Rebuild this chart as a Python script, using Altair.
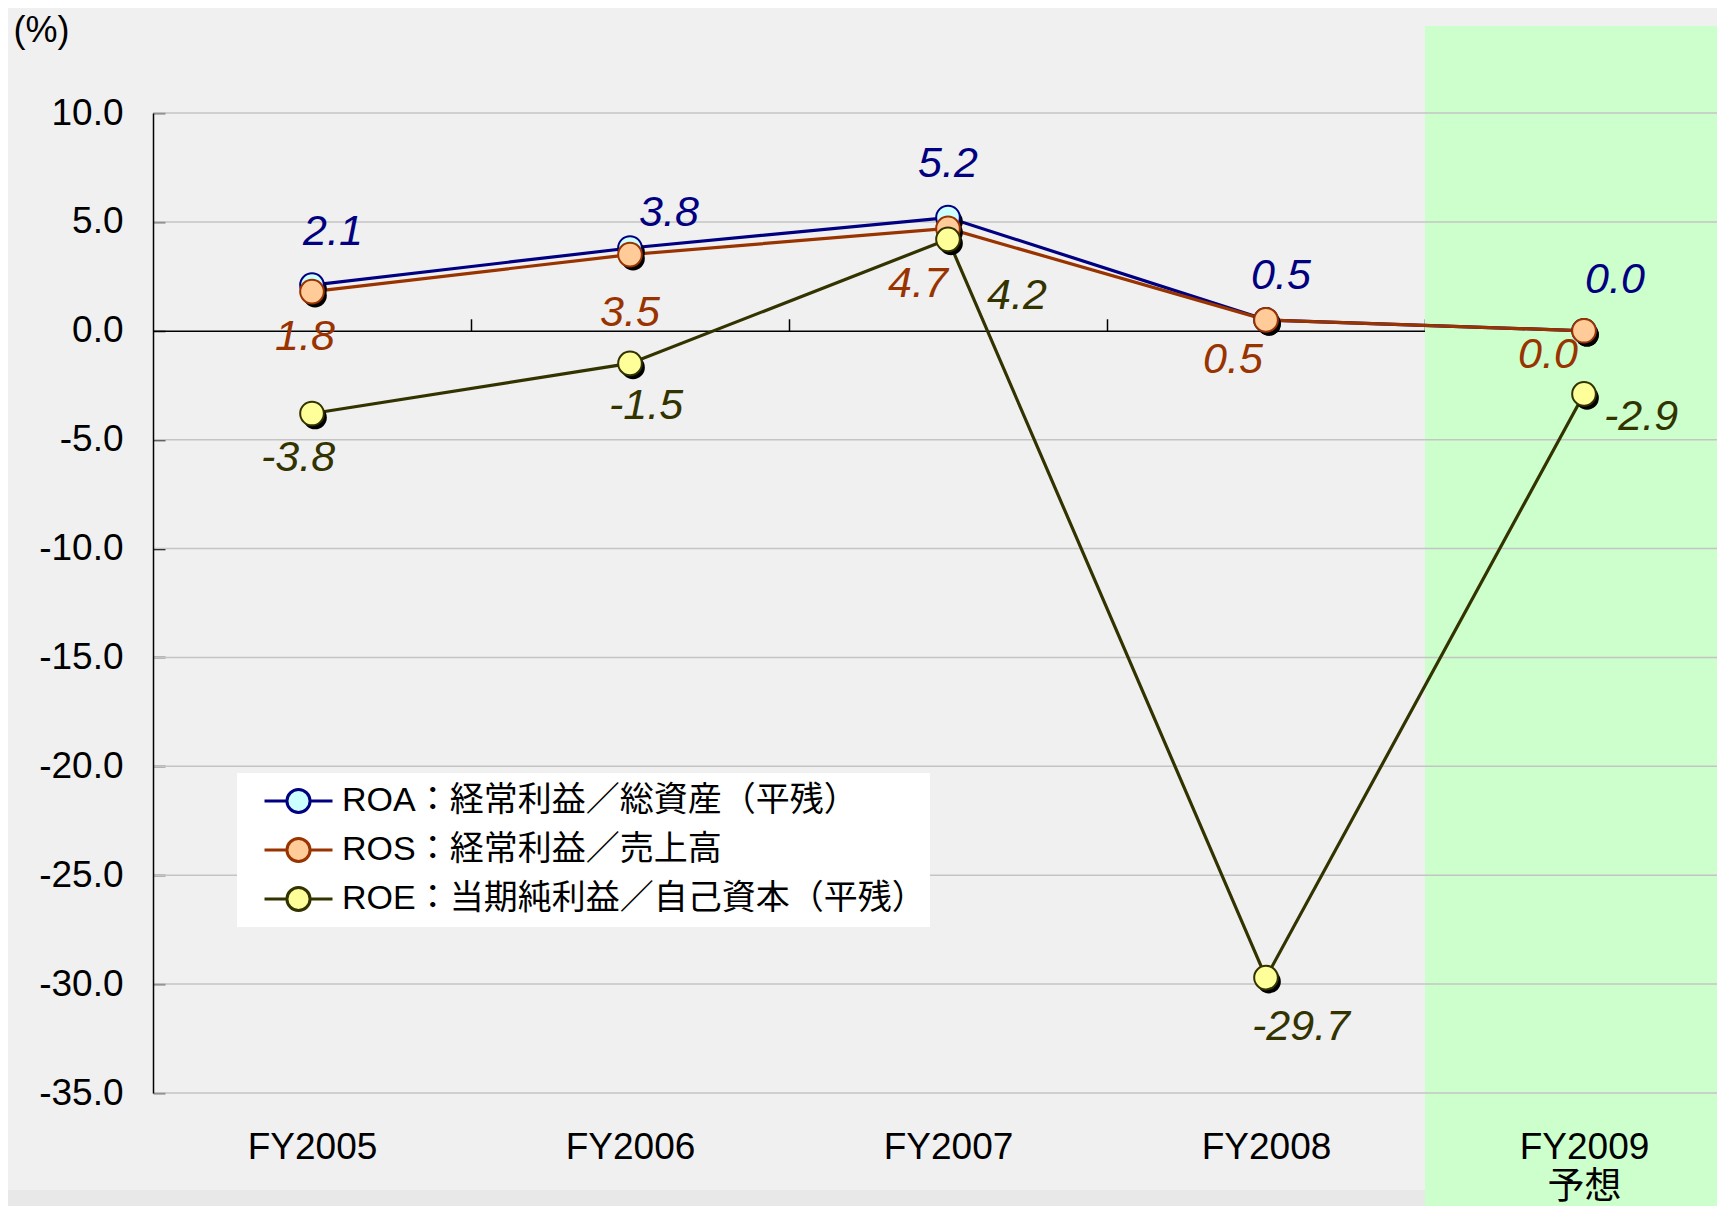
import altair as alt
import pandas as pd

# ---- data ----
categories = ["FY2005", "FY2006", "FY2007", "FY2008", "FY2009\n予想"]
series_names = [
    "ROA：経常利益／総資産（平残）",
    "ROS：経常利益／売上高",
    "ROE：当期純利益／自己資本（平残）",
]
roa = [2.1, 3.8, 5.2, 0.5, 0.0]
ros = [1.8, 3.5, 4.7, 0.5, 0.0]
roe = [-3.8, -1.5, 4.2, -29.7, -2.9]
y_ticks = [10, 5, 0, -5, -10, -15, -20, -25, -30, -35]

line_colors = ["#000080", "#993300", "#333300"]
fill_colors = ["#ccffff", "#ffcc99", "#ffff99"]

# data-label placement (pixel offsets from each point, as hand-placed in the original)
label_dx = [[21, 39, 0, 15, 31], [-7, 0, -30, -33, -36], [-14, 16, 69, 35, 57]]
label_dy = [[-53, -35, -54, -44, -51], [45, 58, 56, 40, 24], [44, 43, 57, 49, 23]]

rows = []
for s, (name, vals) in enumerate(zip(series_names, [roa, ros, roe])):
    for i, v in enumerate(vals):
        rows.append({"series": name, "idx": i, "value": v, "label": f"{v:.1f}",
                     "dx": label_dx[s][i], "dy": label_dy[s][i]})
df = pd.DataFrame(rows)

# ---- geometry ----
W, H = 1564, 980
band_px = 318
x_min = -0.5
x_max = x_min + W / band_px
y_min, y_max = -35, 10
px_per_unit = H / (y_max - y_min)

FONT = "Liberation Sans, Arial, Noto Sans CJK JP"

xs = alt.Scale(domain=[x_min, x_max], nice=False, zero=False)
ys = alt.Scale(domain=[y_min, y_max], nice=False, zero=False)

label_expr = ("split([" + ",".join("'" + c.replace("\n", "\\n") + "'" for c in categories)
              + "][datum.value], '\\n')")

stroke_scale = alt.Scale(domain=series_names, range=line_colors)
fill_scale = alt.Scale(domain=series_names, range=fill_colors)

legend_path = ("M-1,0 L-0.34,0 M0.34,0 L1,0 "
               "M0.34,0 A0.34,0.34 0 1,1 -0.34,0 A0.34,0.34 0 1,1 0.34,0 Z")
legend = alt.Legend(
    title=None, orient="none", legendX=84, legendY=660, symbolType=legend_path,
    symbolSize=4624, symbolStrokeWidth=3, labelFont=FONT, labelFontSize=34,
    labelColor="#000000", labelLimit=1000, fillColor="#ffffff", padding=4,
    clipHeight=48, rowPadding=1, labelOffset=8, symbolOffset=22, zindex=2)

X = lambda f: alt.X(f, scale=xs, axis=None)
Y = lambda f: alt.Y(f, scale=ys, axis=None)

# green forecast band (carries the main axes)
band_df = pd.DataFrame({"x": [3.5], "x2": [x_max], "y": [14.0], "y2": [-41.0]})
band = alt.Chart(band_df).mark_rect(color="#ccffcc", clip=False).encode(
    x=alt.X("x:Q", scale=xs, axis=alt.Axis(
        values=list(range(len(categories))), labelExpr=label_expr, title=None,
        domain=False, ticks=False, tickSize=0, grid=False, labelFont=FONT,
        labelFontSize=37, labelColor="#000000", labelPadding=36, labelLineHeight=40,
        labelFlush=False, labelOverlap=False, zindex=1)),
    x2="x2:Q",
    y=alt.Y("y:Q", scale=ys, axis=alt.Axis(
        values=y_ticks, labelExpr="replace(format(datum.value, '.1f'), '\u2212', '-')",
        title="(%)", titleAngle=0, titleAlign="left", titleBaseline="middle",
        titleX=-140, titleY=-83, titleFont=FONT, titleFontSize=36,
        titleFontWeight="normal", titleColor="#000000",
        domain=True, domainColor="#000000", domainWidth=1.5,
        ticks=False, tickSize=0, grid=False, labelFont=FONT, labelFontSize=37,
        labelColor="#000000", labelPadding=30, zindex=1)),
    y2="y2:Q",
)

strip_df = pd.DataFrame({"x": [-1.5], "x2": [3.5], "y": [-39.45], "y2": [-41.0]})
strip = alt.Chart(strip_df).mark_rect(color="#e8e8e8", clip=False).encode(
    x=X("x:Q"), x2="x2:Q", y=Y("y:Q"), y2="y2:Q",
)

grid_df = pd.DataFrame({"y": [v for v in y_ticks if v != 0], "x": x_min, "x2": x_max})
grid = alt.Chart(grid_df).mark_rule(color="#c4c4c4", strokeWidth=1.5).encode(
    x=X("x:Q"), x2="x2:Q", y=Y("y:Q"),
)

# zero line (category axis) with upward ticks between categories, and inward y ticks
zero_df = pd.DataFrame({"x": [0.5, 1.5, 2.5, 3.5], "y": [0, 0, 0, 0]})
zero_axis = alt.Chart(zero_df).mark_point(opacity=0).encode(
    x=alt.X("x:Q", scale=xs, axis=alt.Axis(
        orient="top", offset=-(y_max - 0) * px_per_unit, values=[0.5, 1.5, 2.5, 3.5],
        labels=False, title=None, grid=False, domain=True, domainColor="#000000",
        domainWidth=1.5, ticks=True, tickSize=12, tickColor="#000000", tickWidth=1.5)),
    y=alt.Y("y:Q", scale=ys, axis=alt.Axis(
        orient="right", offset=-W, values=y_ticks, labels=False, title=None,
        grid=False, domain=False, ticks=True, tickSize=12, tickColor="#000000",
        tickWidth=1.5)),
)

lines = alt.Chart(df).mark_line(strokeWidth=3.2).encode(
    x=X("idx:Q"),
    y=Y("value:Q"),
    stroke=alt.Stroke("series:N", scale=stroke_scale, legend=legend),
    detail="series:N",
)

shadows = alt.Chart(df).mark_point(filled=True, size=560, fill="#000000", opacity=1,
                                   xOffset=3, yOffset=4).encode(
    x=X("idx:Q"),
    y=Y("value:Q"),
)

points = alt.Chart(df).mark_point(filled=True, size=560, strokeWidth=2, opacity=1).encode(
    x=X("idx:Q"),
    y=Y("value:Q"),
    fill=alt.Fill("series:N", scale=fill_scale, legend=legend),
    stroke=alt.Stroke("series:N", scale=stroke_scale, legend=legend),
)

text_layers = []
for name, color in zip(series_names, line_colors):
    text_layers.append(
        alt.Chart(df[df.series == name]).transform_calculate(
            lx=f"datum.idx + datum.dx / {band_px}",
            ly=f"datum.value - datum.dy / {px_per_unit}",
        ).mark_text(
            font=FONT, fontSize=43, fontStyle="italic", color=color,
            baseline="middle", align="center").encode(
            x=X("lx:Q"),
            y=Y("ly:Q"),
            text="label:N",
        )
    )

chart = alt.layer(band, strip, grid, zero_axis, lines, shadows, points, *text_layers).resolve_axis(
    x="independent", y="independent"
).properties(
    width=W, height=H,
    autosize=alt.AutoSizeParams(type="none"),
    padding={"left": 145, "top": 105, "right": 0, "bottom": 113},
    background="#f0f0f0",
).configure_view(stroke=None)

chart.save("out.html", embed_options={"renderer": "svg", "actions": False})
